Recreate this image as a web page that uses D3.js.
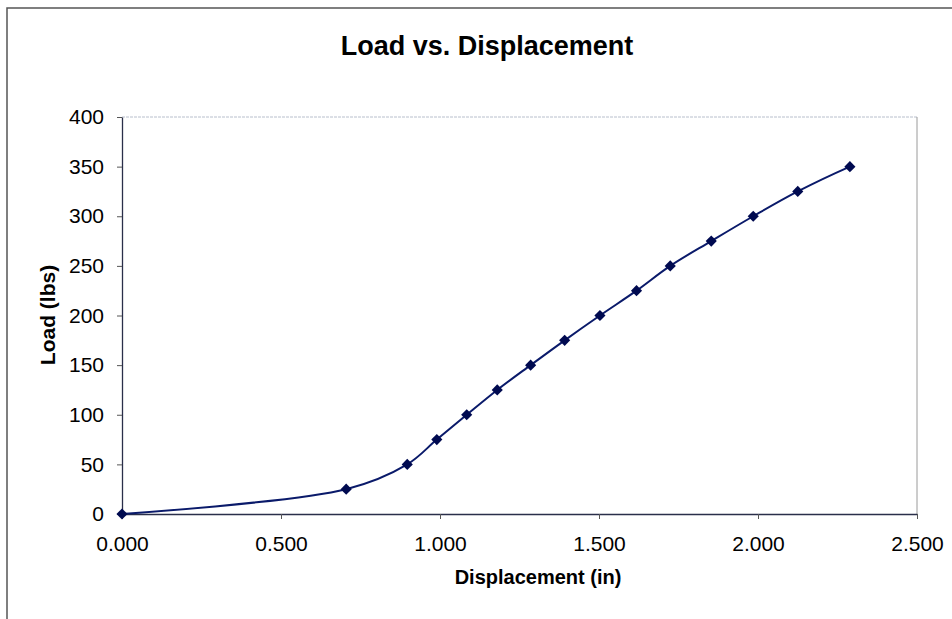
<!DOCTYPE html>
<meta charset="utf-8">
<script src="https://d3js.org/d3.v7.min.js"></script>
<style>
  body { margin: 0; background: #fff; font-family: Arial, "Liberation Sans", sans-serif; }
  .tick text { font-family: Arial, "Liberation Sans", sans-serif; }
</style>
<div id="chart"></div>
<script>
// displacement (in) and load (lbs)
var displacement = [0.000, 0.705, 0.897, 0.990, 1.084, 1.180, 1.285, 1.392, 1.503, 1.618, 1.724, 1.853, 1.985, 2.125, 2.289];
var load = [0, 25, 50, 75, 100, 125, 150, 175, 200, 225, 250, 275, 300, 325, 350];
var xTicks = [0, 0.5, 1.0, 1.5, 2.0, 2.5];
var yTicks = [0, 50, 100, 150, 200, 250, 300, 350, 400];

var W = 952, H = 619;
var margin = {top: 117, right: 35, bottom: 105, left: 122},
  width = W - margin.left - margin.right,
  height = H - margin.top - margin.bottom;

var svg = d3.select("#chart")
  .append("svg")
    .attr("width", W)
    .attr("height", H);

// outer chart frame (only left and top show in the picture)
svg.append("rect")
  .attr("x", 7).attr("y", 8)
  .attr("width", 1000).attr("height", 700)
  .attr("fill", "none")
  .attr("stroke", "#555")
  .attr("stroke-width", 1.5);

var g = svg.append("g")
  .attr("transform", "translate(" + margin.left + "," + margin.top + ")");

var x = d3.scaleLinear().domain([0, 2.5]).range([0, width]);
var y = d3.scaleLinear().domain([0, 400]).range([height, 0]);

// plot area border, light
g.append("line")
  .attr("x1", 0).attr("x2", width).attr("y1", 0).attr("y2", 0)
  .attr("stroke", "#b8bfcc").attr("stroke-width", 1)
  .attr("stroke-dasharray", "3,1");
g.append("line")
  .attr("x1", width).attr("x2", width).attr("y1", 0).attr("y2", height)
  .attr("stroke", "#9a9a9a").attr("stroke-width", 1);

var xAxis = g.append("g")
  .attr("transform", "translate(0," + height + ")")
  .call(d3.axisBottom(x).tickValues(xTicks).tickSize(5).tickSizeOuter(0)
    .tickPadding(13).tickFormat(d3.format(".3f")));

var yAxis = g.append("g")
  .call(d3.axisLeft(y).tickValues(yTicks).tickSize(5).tickSizeOuter(0)
    .tickPadding(13));

[xAxis, yAxis].forEach(function(a) {
  a.select(".domain").attr("stroke", "#2a2f4a").attr("stroke-width", 1.3);
  a.selectAll(".tick line").attr("stroke", "#555");
  a.selectAll(".tick text").style("font-size", "21px").attr("fill", "#000");
});
xAxis.selectAll(".tick text").attr("dy", "0.9em");

var pts = displacement.map(function(d, i) { return [d, load[i]]; });

var line = d3.line()
  .x(function(d) { return x(d[0]); })
  .y(function(d) { return y(d[1]); })
  .curve(d3.curveCatmullRom);

g.append("path")
  .datum(pts)
  .attr("d", line)
  .attr("fill", "none")
  .attr("stroke", "#0a1a6a")
  .attr("stroke-width", 2);

g.selectAll(".marker")
  .data(pts)
  .enter()
  .append("path")
    .attr("class", "marker")
    .attr("d", d3.symbol().type(d3.symbolSquare).size(62))
    .attr("transform", function(d) { return "translate(" + x(d[0]) + "," + y(d[1]) + ") rotate(45)"; })
    .attr("fill", "#000a50");

// titles
svg.append("text")
  .attr("x", 487).attr("y", 55)
  .attr("text-anchor", "middle")
  .style("font-size", "27px").style("font-weight", "bold")
  .text("Load vs. Displacement");

svg.append("text")
  .attr("x", 538).attr("y", 584)
  .attr("text-anchor", "middle")
  .style("font-size", "20px").style("font-weight", "bold")
  .text("Displacement (in)");

svg.append("text")
  .attr("transform", "translate(55,315) rotate(-90)")
  .attr("text-anchor", "middle")
  .style("font-size", "21px").style("font-weight", "bold")
  .text("Load (lbs)");
</script>
